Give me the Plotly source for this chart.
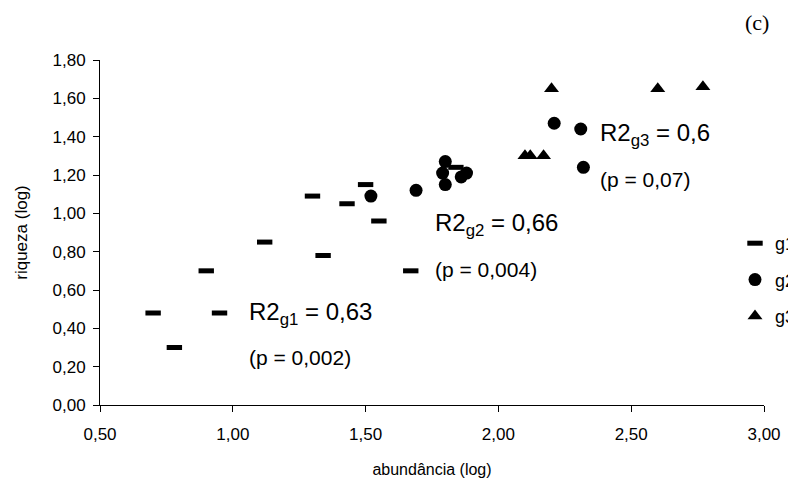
import plotly.graph_objects as go

# g1 (dash markers)
g1_x = [0.70, 0.78, 0.90, 0.95, 1.12, 1.30, 1.34, 1.43, 1.50, 1.55, 1.67, 1.84]
g1_y = [0.48, 0.30, 0.70, 0.48, 0.85, 1.09, 0.78, 1.05, 1.15, 0.96, 0.70, 1.24]
# g2 (circles)
g2_x = [1.52, 1.69, 1.80, 1.79, 1.80, 1.86, 1.88, 2.21, 2.31, 2.32]
g2_y = [1.09, 1.12, 1.27, 1.21, 1.15, 1.19, 1.21, 1.47, 1.44, 1.24]
# g3 (triangles)
g3_x = [2.10, 2.12, 2.17, 2.20, 2.60, 2.77]
g3_y = [1.30, 1.30, 1.30, 1.65, 1.65, 1.66]

x_ticks = [0.5, 1.0, 1.5, 2.0, 2.5, 3.0]
y_ticks = [0.0, 0.2, 0.4, 0.6, 0.8, 1.0, 1.2, 1.4, 1.6, 1.8]

FONT = "Liberation Sans, Arial, sans-serif"

fig = go.Figure()
fig.add_trace(go.Scatter(x=g1_x, y=g1_y, mode="markers", name="g1", legendgroup="a",
                         marker=dict(symbol="line-ew", size=11, color="black",
                                     line=dict(width=5, color="black"))))
fig.add_trace(go.Scatter(x=g2_x, y=g2_y, mode="markers", name="g2", legendgroup="b",
                         marker=dict(symbol="circle", size=13, color="black")))
fig.add_trace(go.Scatter(x=g3_x, y=g3_y, mode="markers", name="g3", legendgroup="c",
                         marker=dict(symbol="triangle-up", size=13, color="black")))

ann_font = dict(family=FONT, size=24, color="black")
p_font = dict(family=FONT, size=21, color="black")
annotations = [
    dict(x=1.053, y=0.475, text="R2<sub>g1</sub> = 0,63", font=ann_font),
    dict(x=1.053, y=0.25, text="(p = 0,002)", font=p_font),
    dict(x=1.754, y=0.94, text="R2<sub>g2</sub> = 0,66", font=ann_font),
    dict(x=1.754, y=0.705, text="(p = 0,004)", font=p_font),
    dict(x=2.375, y=1.41, text="R2<sub>g3</sub> = 0,6", font=ann_font),
    dict(x=2.375, y=1.175, text="(p = 0,07)", font=p_font),
]
for a in annotations:
    a.update(xref="x", yref="y", xanchor="left", yanchor="middle", showarrow=False)
annotations.append(dict(x=(757 - 100) / 664, y=(405 - 22) / 345, xref="paper", yref="paper",
                        xanchor="center", yanchor="middle", text="(c)", showarrow=False,
                        font=dict(family="Liberation Serif, Times New Roman, serif",
                                  size=22, color="black")))

fig.update_layout(
    width=788, height=485,
    margin=dict(l=100, r=24, t=60, b=80, autoexpand=False),
    plot_bgcolor="white", paper_bgcolor="white",
    separators=",.",
    font=dict(family=FONT, size=17, color="black"),
    showlegend=True,
    legend=dict(xref="container", yref="container", x=735 / 788, y=1 - 225 / 485,
                xanchor="left", yanchor="top",
                bgcolor="rgba(0,0,0,0)", font=dict(family=FONT, size=18),
                tracegroupgap=10, itemwidth=30),
    annotations=annotations,
)
fig.update_xaxes(range=[0.5, 3.0], tickvals=x_ticks, tickformat=".2f",
                 showgrid=False, zeroline=False, showline=True, linecolor="black",
                 linewidth=1, ticks="outside", ticklen=6, tickcolor="black",
                 ticklabelstandoff=8,
                 title=dict(text="abundância (log)", font=dict(family=FONT, size=16), standoff=20),
                 tickfont=dict(family=FONT, size=17))
fig.update_yaxes(range=[0.0, 1.8], tickvals=y_ticks, tickformat=".2f",
                 showgrid=False, zeroline=False, showline=True, linecolor="black",
                 linewidth=1, ticks="outside", ticklen=6, tickcolor="black",
                 ticklabelstandoff=4,
                 title=dict(text="riqueza (log)", font=dict(family=FONT, size=17), standoff=20),
                 tickfont=dict(family=FONT, size=17))

fig.write_html("out.html")
